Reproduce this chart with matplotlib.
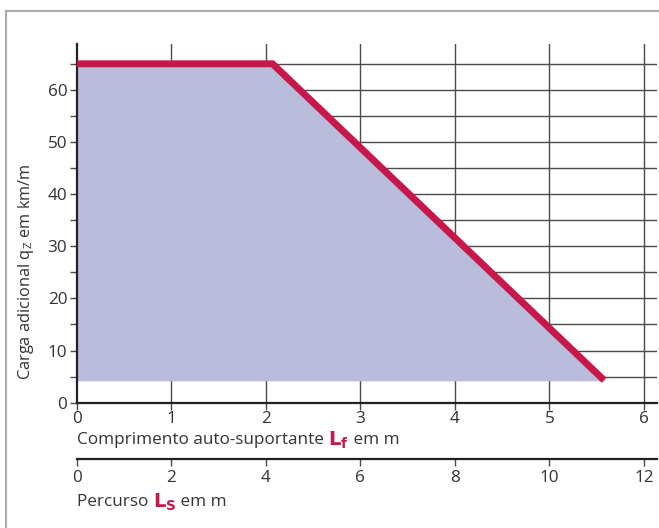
import matplotlib
matplotlib.use("Agg")
import matplotlib.pyplot as plt
from matplotlib.lines import Line2D

# Data
Lf = [0.0, 2.07, 5.58]          # Comprimento auto-suportante (m)
qz = [65.0, 65.0, 4.3]          # Carga adicional (kN/m)
fill_base = 4.2
y_ticks = [0, 10, 20, 30, 40, 50, 60]
y_minor = [5, 15, 25, 35, 45, 55, 65]
x_ticks = [0, 1, 2, 3, 4, 5, 6]
ls_ticks = [0, 2, 4, 6, 8, 10, 12]

RED = "#c8174a"
FILL = "#b9bcdb"
GRID = "#4a4a4a"
TXT = "#333333"
FONT = "Open Sans"
FS = 12.3

plt.rcParams["font.family"] = [FONT, "DejaVu Sans"]

W, H = 659, 528
fig = plt.figure(figsize=(W / 100, H / 100), dpi=100)

def fx(px):
    return px / W

def fy(py):
    return 1 - py / H

ax = fig.add_axes([fx(77), fy(402.7), fx(657) - fx(77), fy(44) - fy(402.7)])
ax.set_xlim(0, 6.14)
ax.set_ylim(0, 68.8)

# grid
for y in y_ticks[1:] + y_minor:
    ax.axhline(y, color=GRID, lw=1.0, zorder=1)
for x in x_ticks[1:]:
    ax.axvline(x, color=GRID, lw=1.0, zorder=1)

ax.fill_between(Lf, qz, fill_base, color=FILL, lw=0, zorder=2)
ax.plot(Lf, qz, color=RED, lw=5, solid_joinstyle="miter", solid_capstyle="butt", zorder=3)

for s in ["top", "right"]:
    ax.spines[s].set_visible(False)
for s in ["left", "bottom"]:
    ax.spines[s].set_linewidth(1.6)
    ax.spines[s].set_color("#222222")

ax.set_yticks(y_ticks)
ax.set_yticks(y_minor, minor=True)
ax.set_xticks(x_ticks)
ax.tick_params(axis="y", which="both", direction="out", length=5, width=1.0, color=GRID,
               labelsize=FS, labelcolor=TXT, pad=2)
ax.tick_params(axis="x", direction="out", length=5, width=1.0, color=GRID,
               labelsize=FS, labelcolor=TXT, pad=1)

fig.text(fx(26), fy(272), r"Carga adicional q$_\mathregular{Z}$ em km/m",
         rotation=90, ha="center", va="center", fontsize=11.8, color=TXT)

# second axis (Percurso)
ax2 = fig.add_axes([fx(77), fy(459), fx(657) - fx(77), 0.0001])
ax2.set_xlim(0, 12.28)
ax2.set_ylim(0, 1)
for s in ["top", "right", "left"]:
    ax2.spines[s].set_visible(False)
ax2.spines["bottom"].set_linewidth(1.6)
ax2.spines["bottom"].set_color("#222222")
ax2.set_yticks([])
ax2.set_xticks(ls_ticks)
ax2.tick_params(axis="x", direction="out", length=5, width=1.0, color=GRID,
                labelsize=FS, labelcolor=TXT, pad=3)
ax2.patch.set_alpha(0)

# composite labels
def composite(x_px, y_px, parts):
    renderer = fig.canvas.get_renderer()
    x = fx(x_px)
    for txt, color, weight, size in parts:
        t = fig.text(x, fy(y_px), txt, ha="left", va="center", fontsize=size,
                     color=color, fontweight=weight)
        bb = t.get_window_extent(renderer=renderer)
        x = fx(bb.x1)

composite(77, 440, [("Comprimento auto-suportante ", TXT, "normal", FS),
                    (r"$\mathbf{L_f}$", RED, "bold", 14),
                    (" em m", TXT, "normal", FS)])
composite(77, 502, [("Percurso ", TXT, "normal", FS),
                    (r"$\mathbf{L_S}$", RED, "bold", 14),
                    (" em m", TXT, "normal", FS)])

# figure border
fig.add_artist(Line2D([fx(5.5), fx(5.5)], [0, fy(10.5)], color="#aaaaaa", lw=1.5,
                      transform=fig.transFigure))
fig.add_artist(Line2D([fx(5.5), 1], [fy(10.5), fy(10.5)], color="#aaaaaa", lw=1.5,
                      transform=fig.transFigure))

fig.savefig("out.png", dpi=100)
